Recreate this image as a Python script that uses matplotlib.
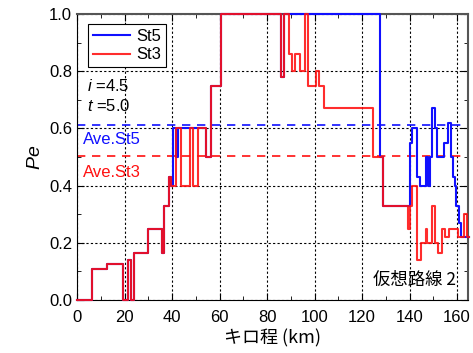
import matplotlib
matplotlib.use('Agg')
import matplotlib.pyplot as plt
from matplotlib.ticker import MultipleLocator, FormatStrFormatter

plt.rcParams['font.family'] = ['Liberation Sans', 'Noto Sans CJK JP']
plt.rcParams['mathtext.fontset'] = 'custom'
plt.rcParams['mathtext.it'] = 'Liberation Sans:italic'
plt.rcParams['mathtext.rm'] = 'Liberation Sans'

# step edges (km) and Pe values
st3_km = [0, 6.1, 12.4, 19.4, 21.5, 22.6, 23.9, 29.7, 35.9, 36.7, 38.5, 39.4,
          41.8, 43.9, 47.4, 48.8, 50.9, 54.4, 56.5, 60.7, 86.0, 87.1, 89.1,
          90.4, 91.6, 93.7, 96.1, 97.3, 100.7, 101.7, 103.8, 124.5, 128.8,
          139.3, 140.2, 141.2, 143.1, 144.7, 146.8, 147.3, 149.5, 150.7,
          151.9, 153.5, 155.0, 156.5, 160.2, 162.8, 164.0, 165.0]
st3_pe = [0.0, 0.11, 0.125, 0.0, 0.14, 0.0, 0.165, 0.25, 0.165, 0.33, 0.43, 0.40,
          0.60, 0.40, 0.60, 0.40, 0.60, 0.50, 0.75, 1.0, 0.78, 1.0, 0.86,
          0.80, 0.86, 0.80, 1.0, 0.75, 0.80, 0.75, 0.67, 0.50, 0.33,
          0.25, 0.33, 0.40, 0.14, 0.20, 0.25, 0.20, 0.33, 0.20,
          0.165, 0.25, 0.22, 0.25, 0.22, 0.30, 0.22, 0.22]

st5_km = [0, 6.1, 12.4, 19.4, 21.5, 22.6, 23.9, 29.7, 35.9, 36.7, 38.5, 39.4,
          40.2, 41.5, 42.3, 54.4, 56.5, 60.7, 86.0, 87.1, 127.7, 128.8,
          140.2, 141.2, 143.1, 144.3, 146.9, 147.6, 148.4, 149.5, 150.6,
          151.4, 154.6, 156.2, 157.4, 158.2, 159.0, 159.7, 160.8, 161.8, 165.0]
st5_pe = [0.0, 0.11, 0.125, 0.0, 0.14, 0.0, 0.165, 0.25, 0.165, 0.33, 0.43, 0.40,
          0.60, 0.50, 0.60, 0.50, 0.75, 1.0, 0.78, 1.0, 0.50, 0.33,
          0.55, 0.60, 0.43, 0.40, 0.50, 0.40, 0.50, 0.67, 0.60,
          0.50, 0.55, 0.62, 0.50, 0.43, 0.40, 0.33, 0.27, 0.22, 0.22]

ave_st5 = 0.612
ave_st3 = 0.503

fig = plt.figure(figsize=(4.73, 3.53), dpi=100)
ax = fig.add_axes([0.163, 0.150, 0.826, 0.810])

ax.step(st5_km, st5_pe, where='post', color='#1010ff', lw=1.5, label='St5',
        clip_on=False, zorder=3)
ax.step(st3_km, st3_pe, where='post', color='#ff1010', lw=1.5, label='St3',
        alpha=0.88, clip_on=False, zorder=4)

ax.axhline(ave_st5, color='#1010ff', ls=(0, (5, 4)), lw=1.2, zorder=2)
ax.axhline(ave_st3, color='#ff1010', ls=(0, (5, 4)), lw=1.2, zorder=2)

ax.set_xlim(0, 164.5)
ax.set_ylim(0, 1.0)
ax.xaxis.set_major_locator(MultipleLocator(20))
ax.xaxis.set_minor_locator(MultipleLocator(10))
ax.yaxis.set_major_locator(MultipleLocator(0.2))
ax.yaxis.set_minor_locator(MultipleLocator(0.1))
ax.yaxis.set_major_formatter(FormatStrFormatter('%.1f'))
ax.tick_params(which='both', direction='in', top=True, right=True, labelsize=12)
ax.tick_params(which='major', length=5)
ax.tick_params(axis='x', which='major', pad=7)
ax.tick_params(which='minor', length=3)
ax.grid(True, which='major', color='black', ls=(0, (2, 2)), lw=0.8)
for s in ['top', 'right']:
    ax.spines[s].set_color('#555555')
    ax.spines[s].set_linewidth(1.5)

ax.set_xlabel('キロ程 (km)', fontsize=13, family=['Noto Sans CJK JP'], labelpad=3)
ax.set_ylabel('$Pe$', fontsize=14, labelpad=4)

leg = ax.legend(loc='upper left', bbox_to_anchor=(0.028, 0.965), borderaxespad=0,
                fancybox=False, edgecolor='black', framealpha=1, fontsize=12,
                handlelength=2.2, handletextpad=0.4, borderpad=0.3, labelspacing=0.2)
leg.get_frame().set_linewidth(0.8)

ax.text(4.0, 0.75, '$i$ =4.5', fontsize=12, va='center')
ax.text(4.0, 0.68, '$t$ =5.0', fontsize=12, va='center')
ax.text(2.3, 0.56, 'Ave.St5', color='#1010ff', fontsize=12, va='center')
ax.text(2.3, 0.447, 'Ave.St3', color='#ff1010', fontsize=12, va='center')
ax.text(159.5, 0.07, '仮想路線 2', fontsize=12.5, ha='right', va='center',
        family=['Noto Sans CJK JP'])

fig.savefig('out.png', dpi=100)
